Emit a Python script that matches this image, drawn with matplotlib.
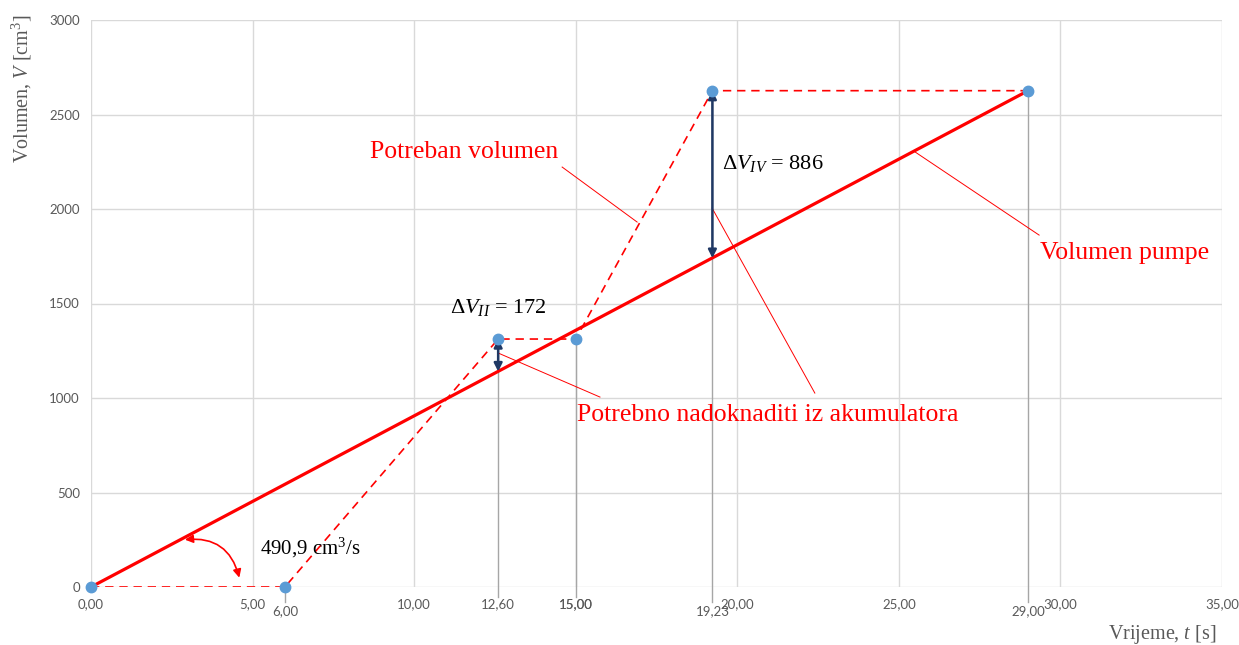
import matplotlib
matplotlib.use("Agg")
import matplotlib.pyplot as plt
from matplotlib.patches import FancyArrowPatch

plt.rcParams["mathtext.fontset"] = "custom"
plt.rcParams["mathtext.it"] = "Liberation Serif:italic"
plt.rcParams["mathtext.rm"] = "Liberation Serif"
plt.rcParams["mathtext.cal"] = "Liberation Serif:italic"

# ---- data ----
req_t = [0.0, 6.0, 12.6, 15.0, 19.23, 29.0]
req_v = [0, 0, 1312, 1312, 2626, 2626]
pump_t = [0.0, 29.0]
pump_v = [0, 2626]
x_ticks = [0, 5, 10, 15, 20, 25, 30, 35]
x_tick_labels = ["0,00", "5,00", "10,00", "15,00", "20,00", "25,00", "30,00", "35,00"]
y_ticks = [0, 500, 1000, 1500, 2000, 2500, 3000]
mark_t = [6.0, 12.6, 15.0, 19.23, 29.0]
mark_v = [0, 1312, 1312, 2626, 2626]
mark_labels = ["6,00", "12,60", "15,00", "19,23", "29,00"]
mark_low = [True, False, False, True, True]
dV_t = [12.6, 19.23]
dV_top = [1312, 2626]
dV_bot = [1140, 1740]

RED = "#FF0000"
BLUE = "#5B9BD5"
NAVY = "#1F3864"
GRAY = "#595959"
GRID = "#D9D9D9"
SERIF = "Liberation Serif"
SANS = "Lato"

fig = plt.figure(figsize=(12.39, 6.45), dpi=100)
ax = fig.add_axes([91/1239, 1-587/645, (1222-91)/1239, (587-20)/645])
ax.set_xlim(0, 35)
ax.set_ylim(0, 3000)
for s in ax.spines.values():
    s.set_visible(False)
ax.set_xticks(x_ticks)
ax.set_xticklabels(x_tick_labels)
ax.set_yticks(y_ticks)
ax.tick_params(length=0, labelsize=9.5, labelcolor=GRAY, pad=8)
for lab in ax.get_xticklabels() + ax.get_yticklabels():
    lab.set_fontfamily(SANS)
ax.grid(True, color=GRID, lw=1)
ax.set_axisbelow(True)

# vertical helper lines + extra tick labels
for t, v, lab, low in zip(mark_t, mark_v, mark_labels, mark_low):
    bottom = -80 if low else -55
    ax.plot([t, t], [v, bottom], color="#A6A6A6", lw=1, clip_on=False, zorder=2)
    ax.text(t, -130 if low else -92, lab, ha="center", va="center", fontsize=9.5,
            color=GRAY, family=SANS, clip_on=False)

# lines
ax.plot(req_t, req_v, color=RED, lw=1.2, ls=(0, (5, 3.5)), zorder=3)
ax.plot(pump_t, pump_v, color=RED, lw=2.3, zorder=4)
ax.plot(req_t, req_v, "o", ms=7.5, color=BLUE, zorder=6, clip_on=False)

# delta arrows
for t, top, bot in zip(dV_t, dV_top, dV_bot):
    ax.annotate("", xy=(t, bot), xytext=(t, top),
                arrowprops=dict(arrowstyle="<|-|>", color=NAVY, lw=1.8,
                                mutation_scale=12, shrinkA=0, shrinkB=0), zorder=5)

# leader lines
leaders = [((14.58, 2222), (16.9, 1931)),
           ((25.5, 2302), (29.34, 1862)),
           ((12.6, 1238), (15.75, 1005)),
           ((19.22, 2005), (22.4, 1026))]
for (x0, y0), (x1, y1) in leaders:
    ax.plot([x0, x1], [y0, y1], color=RED, lw=0.7, zorder=3)

ax.text(8.63, 2302, "Potreban volumen", color=RED, fontsize=18.5, family=SERIF, va="center")
ax.text(29.37, 1767, "Volumen pumpe", color=RED, fontsize=18.5, family=SERIF, va="center")
ax.text(15.04, 910, "Potrebno nadoknaditi iz akumulatora", color=RED, fontsize=18.5,
        family=SERIF, va="center")
ax.text(11.1, 1481, "$\\mathit{ΔV}_{\\mathit{II}}$" + " = 172", color="black",
        fontsize=16, family=SERIF, va="center")
ax.text(19.53, 2243, "$\\mathit{ΔV}_{\\mathit{IV}}$" + " = 886", color="black",
        fontsize=16, family=SERIF, va="center")
ax.text(5.23, 206, "490,9 cm$^3$/s", color="black", fontsize=15, family=SERIF, va="center")

arc = FancyArrowPatch((2.82, 249), (4.61, 35), connectionstyle="arc3,rad=-0.45",
                      arrowstyle="<|-|>", color=RED, lw=1.2, mutation_scale=12, zorder=5)
ax.add_patch(arc)

fig.text(22/1239, 1-89/645, "Volumen, $V$ [cm$^3$]", rotation=90, ha="center", va="center",
         fontsize=14.5, color=GRAY, family=SERIF)
fig.text(1216/1239, 1-634/645, "Vrijeme, $t$ [s]", ha="right", va="center",
         fontsize=14.5, color=GRAY, family=SERIF)

fig.savefig("out.png", dpi=100)
